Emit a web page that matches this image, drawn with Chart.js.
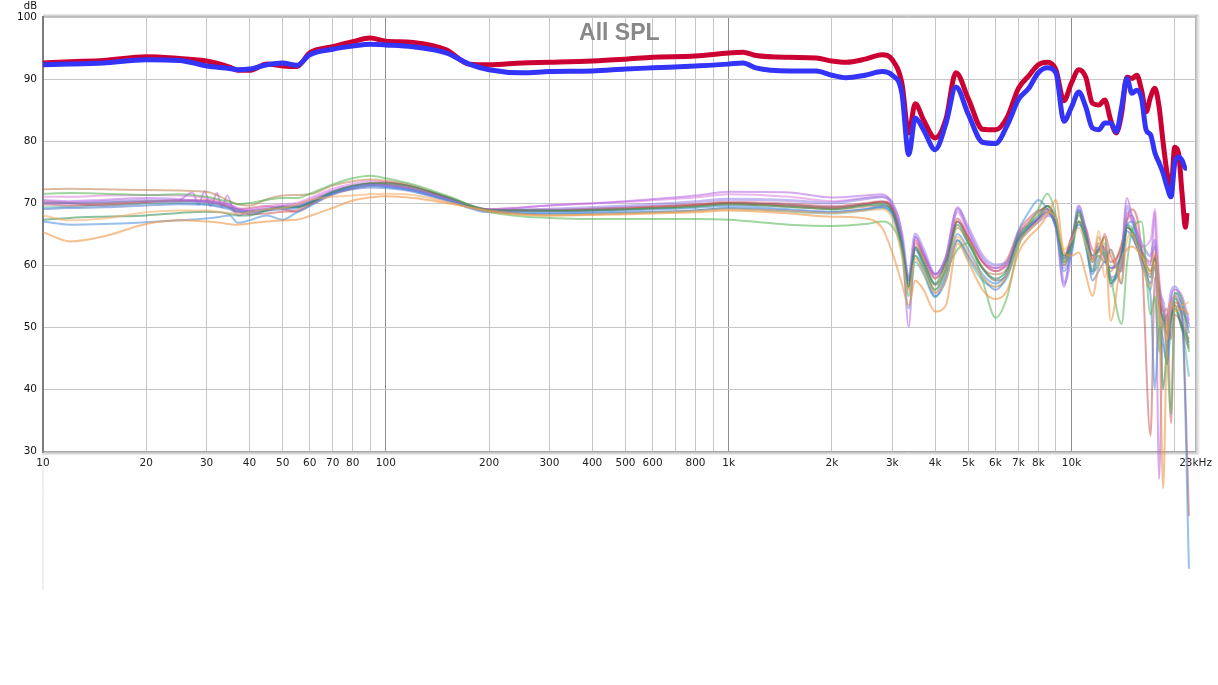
<!DOCTYPE html>
<html>
<head>
<meta charset="utf-8">
<title>All SPL</title>
<script src="https://cdn.jsdelivr.net/npm/chart.js@4.4.1/dist/chart.umd.min.js"></script>
<style>
html, body { margin: 0; padding: 0; background: #fff; }
</style>
</head>
<body>
<canvas id="spl-chart" width="1218" height="685"></canvas>
<script>
// x grid / tick labels (Hz)
var xTickFreq = [10,20,30,40,50,60,70,80,90,100,200,300,400,500,600,700,800,900,
                 1000,2000,3000,4000,5000,6000,7000,8000,9000,10000,20000,23000];
var xTickText = ['10','20','30','40','50','60','70','80','','100','200','300','400','500','600','','800','',
                 '1k','2k','3k','4k','5k','6k','7k','8k','','10k','','23kHz'];

// the two bold traces
var mainFreq = [10,12,15,20,25,30,35,37,40,45,50,55,60,70,80,90,100,120,150,175,
                200,250,300,400,500,600,800,1000,1100,1200,1500,1800,2000,2200,2500,2800,3000,3200,3350,3500,
                3700,4000,4300,4600,5000,5500,6000,6500,7000,7500,8000,8500,9000,9500,10000,10500,11000,11500,12000,12500,
                13000,13500,14000,14500,15000,15500,16000,16500,17000,17500,18000,18500,19000,19500,20000,20500,21000,21500,21700];
var redSpl = [92.6,92.8,93.0,93.6,93.3,92.9,91.9,91.4,91.4,92.4,92.1,92.0,94.2,95.2,96.0,96.6,96.1,95.9,94.7,92.4,
              92.3,92.6,92.7,92.9,93.2,93.5,93.7,94.2,94.3,93.8,93.5,93.4,92.9,92.7,93.2,93.9,93.1,89.3,81.3,86.0,
              83.4,80.5,83.5,91.0,86.8,81.9,81.8,83.9,88.5,90.5,92.3,92.7,91.5,86.5,89.4,91.5,90.3,86.1,85.8,86.6,
              83.4,81.3,84.5,90.3,90.1,90.6,88.2,84.7,87.1,88.5,85.5,79.7,74.8,72.4,79.0,78.1,71.6,66.1,68.4];
var blueSpl = [92.3,92.4,92.6,93.1,93.0,92.1,91.7,91.5,91.6,92.3,92.6,92.2,93.9,94.8,95.3,95.6,95.5,95.2,94.2,92.4,
               91.5,91.0,91.2,91.3,91.6,91.8,92.1,92.4,92.6,91.8,91.3,91.3,90.6,90.2,90.6,91.2,90.6,87.7,77.8,83.7,
               81.8,78.6,82.8,88.7,84.3,79.8,79.6,82.6,86.7,88.5,91.0,91.8,91.0,83.2,85.5,87.9,85.5,82.1,81.8,82.9,
               82.9,81.5,85.5,90.1,87.7,88.2,86.9,81.8,81.0,78.1,76.5,74.8,72.6,71.0,76.5,77.4,76.9,75.6,75.6];

// the thin individual measurements
var thinFreq = [10,12,15,20,25, 30,33,35,37,40, 45,50,55,60,70, 80,90,100,120,150,
                200,300,500,800,1000, 1500,2000,2500,2800,3000, 3200,3350,3500,3700,4000, 4300,4650,5000,5500,6000,
                6500,7000,7500,8000,8500, 9000,9500,10000,10500,11000, 11500,12000,12500,13000,14000,
                14500,15000,16000,17000,17500, 18000,18500,19000,19500,20000, 21000,22000];
var ora1 = [65.3,63.8,64.6,66.6,67.2, 67.0,66.8,66.6,66.5,66.7, 67.0,67.2,67.3,67.9,69.2, 70.4,70.9,71.1,70.8,70.0,
            68.8,68.0,68.2,68.5,68.8, 68.3,67.8,67.5,66.0,62.0, 57.0,53.5,57.5,56.0,52.5, 53.5,63.5,60.5,56.0,54.5,
            56.0,62.0,64.5,66.0,68.0, 70.5,62.0,61.5,62.0,58.5, 55.0,60.0,64.5,51.0,61.0,
            62.5,63.0,61.5,59.0,62.0, 54.0,24.0,50.0,54.0,52.5, 53.0,52.0];
var ora2 = [68.0,67.2,67.5,68.5,68.8, 68.8,68.5,68.4,68.3,68.5, 69.0,69.2,69.8,70.5,71.0, 71.2,71.4,71.5,71.3,70.2,
            68.6,68.0,68.3,68.7,69.0, 68.7,68.4,68.8,69.0,67.5, 61.5,55.5,61.0,59.0,55.5, 57.5,64.5,62.0,58.0,56.5,
            58.5,63.5,65.5,67.0,68.5, 67.5,62.5,64.0,66.0,63.5, 60.5,65.5,58.0,62.0,57.5,
            64.0,65.0,60.5,56.5,60.5, 52.5,50.5,48.0,53.0,55.0, 53.5,54.0];
var grn1 = [71.5,71.6,71.5,71.3,71.4, 71.0,70.5,70.2,69.8,70.0, 70.5,70.8,70.8,71.5,73.0, 74.0,74.4,74.0,73.0,71.2,
            68.6,67.6,67.4,67.4,67.3, 66.5,66.3,66.6,67.0,66.2, 62.5,55.0,61.5,59.5,56.0, 59.0,62.5,63.5,57.5,51.5,
            55.0,63.0,66.5,69.0,71.5, 68.0,60.5,63.0,68.5,64.0, 59.0,62.5,61.5,58.0,50.5,
            60.0,65.5,67.0,52.0,55.0, 46.0,52.0,45.0,36.0,55.5, 54.5,46.0];
var grn2 = [67.3,67.6,67.8,68.0,68.4, 68.6,68.5,68.2,68.0,68.0, 68.8,69.3,69.3,70.0,71.8, 72.8,73.2,73.2,72.6,71.0,
            68.9,68.8,69.0,69.4,69.8, 69.4,69.0,69.6,69.8,68.6, 63.0,56.5,62.8,60.5,57.0, 60.5,66.5,63.5,59.5,57.8,
            59.3,64.5,66.5,68.0,69.5, 67.0,61.5,63.0,68.5,65.0, 61.5,62.5,64.5,57.0,62.0,
            66.0,65.5,62.0,59.0,61.0, 55.0,40.0,47.0,51.5,53.0, 50.0,47.5];
var blu1 = [67.0,66.5,66.6,66.9,67.2, 67.5,67.8,68.0,66.8,67.2, 68.0,67.3,68.5,69.5,71.5, 72.5,72.8,72.6,72.0,70.5,
            68.5,68.5,68.8,69.2,69.5, 69.0,68.6,69.0,69.5,68.6, 63.5,57.0,62.5,60.0,55.5, 58.5,65.0,62.5,58.5,57.0,
            59.0,65.5,68.5,70.5,69.0, 66.0,59.0,62.0,69.0,63.0, 58.5,61.0,62.0,57.5,60.0,
            66.5,67.0,60.0,55.0,40.0, 50.0,48.0,44.0,51.0,54.5, 52.0,11.0];
var blu2 = [69.0,69.2,69.3,69.6,69.8, 69.7,69.3,69.0,68.5,68.5, 68.8,69.0,69.2,70.0,71.5, 72.2,72.5,72.4,71.8,70.4,
            68.6,68.3,68.5,68.8,69.2, 68.8,68.5,69.0,69.3,68.0, 62.5,57.5,61.5,59.0,55.0, 57.5,64.0,61.5,58.0,56.0,
            58.5,64.0,66.0,67.5,68.5, 66.5,61.0,64.0,66.5,64.5, 57.5,59.0,60.5,59.5,61.5,
            65.5,64.5,61.0,57.0,60.0, 53.5,51.0,48.5,52.0,55.5, 53.5,49.0];
var pur1 = [70.5,70.3,70.5,70.8,70.6, 70.3,70.0,69.8,69.0,68.8, 69.2,69.5,69.8,70.5,72.0, 72.8,73.0,72.8,72.2,70.8,
            69.0,69.6,70.3,71.2,71.8, 71.7,70.9,71.2,71.4,69.8, 64.5,50.0,64.5,62.0,58.5, 61.5,69.3,65.5,61.0,59.5,
            60.0,65.0,66.5,67.5,68.5, 66.0,56.5,63.5,68.8,66.0, 61.5,62.5,61.0,59.5,62.5,
            70.8,68.0,62.5,60.0,68.5, 25.5,52.0,46.0,54.5,56.0, 55.0,51.0];
var lav1 = [70.0,70.0,70.2,70.4,70.3, 70.2,69.8,69.4,68.8,68.4, 68.9,69.3,69.5,70.2,71.7, 72.6,73.0,72.8,72.1,70.6,
            68.8,69.0,69.5,70.2,70.6, 70.4,70.0,70.7,71.0,70.0, 65.0,58.0,65.0,62.5,58.5, 61.0,69.0,66.0,61.5,60.0,
            60.5,64.0,66.0,67.0,68.0, 67.5,57.0,62.0,69.5,65.0, 59.0,63.0,62.0,58.0,60.0,
            69.5,67.5,63.5,61.5,64.0, 56.0,54.0,50.5,55.5,56.5, 54.0,50.0];
var red1 = [69.8,69.6,69.8,70.2,70.4, 70.3,69.8,69.3,68.6,68.2, 68.3,68.6,68.8,69.8,71.6, 72.6,73.2,73.3,72.6,70.9,
            68.9,68.9,69.3,69.7,70.0, 69.6,69.2,69.8,70.2,69.2, 64.0,57.5,64.0,61.5,57.8, 60.5,67.5,64.5,60.5,59.0,
            60.5,65.0,67.0,68.5,69.5, 67.5,61.0,64.5,68.0,65.5, 61.0,63.5,62.5,60.5,63.0,
            67.5,69.0,62.0,32.5,58.0, 56.0,50.0,52.0,48.0,54.0, 51.5,19.5];
var tan1 = [72.2,72.3,72.2,72.1,72.0, 71.8,71.0,70.3,69.8,69.6, 70.6,71.2,71.3,71.4,72.8, 73.5,73.8,73.6,72.8,71.0,
            68.9,68.7,69.0,69.5,69.8, 69.4,69.0,69.4,69.6,68.8, 63.0,56.0,62.5,60.0,56.0, 59.5,66.0,63.5,59.5,58.5,
            59.5,64.5,66.0,67.5,69.0, 67.0,60.0,63.0,67.0,64.0, 60.5,64.5,61.0,59.0,63.5,
            66.0,65.5,61.0,58.5,61.5, 54.5,52.5,50.0,52.5,53.5, 52.5,50.5];
var teal1 = [69.3,69.4,69.6,69.9,70.0, 69.8,69.5,69.2,68.8,68.6, 69.0,69.3,69.4,70.1,71.6, 72.5,72.9,72.8,72.1,70.6,
             68.7,68.2,68.4,68.8,69.1, 68.6,68.3,68.8,69.2,68.3, 62.0,53.0,60.5,58.5,54.8, 58.0,64.0,61.0,57.5,56.5,
             58.0,63.5,66.0,67.5,69.5, 67.0,60.0,62.5,67.0,63.0, 59.0,60.0,63.5,57.0,61.0,
             66.5,66.0,60.5,56.0,60.0, 49.0,47.0,44.0,51.0,55.0, 50.0,42.0];
var gray1 = [70.0,70.0,70.1,70.3,70.4, 70.1,69.7,69.3,68.9,68.7, 69.0,69.4,69.5,70.2,71.8, 72.7,73.1,73.0,72.3,70.8,
             68.8,68.7,69.0,69.6,70.0, 69.7,69.3,69.8,70.1,69.0, 63.5,56.5,63.0,60.8,56.8, 59.5,67.0,64.0,59.5,57.5,
             58.5,63.5,65.5,67.0,68.5, 66.5,60.5,63.5,67.0,64.5, 60.5,61.5,60.5,62.5,57.0,
             66.5,65.0,61.0,58.0,61.5, 54.0,51.5,49.0,52.0,53.5, 49.5,46.5];
var pink1 = [71.0,71.0,71.2,71.3,71.2, 70.8,70.3,69.8,69.2,69.0, 69.5,69.8,70.0,70.8,72.3, 73.1,73.5,73.3,72.6,71.0,
             69.0,69.6,70.2,70.9,71.4, 71.0,70.3,70.8,71.0,69.5, 64.0,57.0,64.5,62.0,58.0, 61.0,68.5,65.0,60.5,59.0,
             60.0,64.0,66.0,67.5,69.0, 66.5,59.5,64.0,69.5,65.5, 61.0,62.5,63.0,56.5,62.0,
             68.5,67.0,63.0,64.0,69.0, 58.0,53.0,51.0,54.0,55.0, 52.0,47.0];
var rose1 = [70.3,70.0,69.6,70.0,70.3, 70.5,70.0,69.5,69.0,69.2, 69.5,69.0,68.6,69.6,71.3, 72.3,72.8,72.9,72.2,70.7,
             68.8,68.9,69.2,69.8,70.2, 69.9,69.5,70.0,70.3,69.3, 64.5,58.0,63.5,61.5,58.5, 61.0,67.0,64.5,60.5,59.5,
             61.0,65.5,67.5,68.8,69.0, 66.0,61.5,64.5,67.0,66.0, 62.5,62.0,65.0,61.5,59.0,
             67.0,68.0,62.5,60.5,63.0, 57.0,52.5,53.0,34.5,52.0, 50.5,48.0];

// the ripple on one of the purple traces around 30 Hz
var rippleFreq = [25,27.3,28.4,29.6,30.8,32.2,33.2,34.5,35.9,37.5,39];
var rippleSpl = [70.4,71.7,69.8,71.9,69.5,71.6,69.3,71.2,68.8,68.0,68.6];

// start of one trace that comes in from far below the axis
var stubFreq = [10, 10];
var stubSpl = [7.6, 30];

var thinTraces = [ora1, ora2, grn1, grn2, blu1, blu2, pur1, lav1, red1, tan1, teal1, gray1, pink1, rose1];
var thinColors = ['rgba(240,150,70,0.6)', 'rgba(245,170,95,0.55)', 'rgba(80,180,80,0.55)', 'rgba(40,140,80,0.55)',
                  'rgba(70,140,220,0.55)', 'rgba(60,110,210,0.5)', 'rgba(180,100,230,0.55)', 'rgba(150,130,230,0.55)',
                  'rgba(200,70,70,0.5)', 'rgba(190,130,80,0.55)', 'rgba(60,170,170,0.5)', 'rgba(90,90,90,0.5)',
                  'rgba(220,110,220,0.5)', 'rgba(210,80,110,0.5)'];

var labelFont = '"DejaVu Sans", "Liberation Sans", sans-serif';

function pts(freq, vals) {
    return freq.map(function (f, i) { return {x: f, y: vals[i]}; });
}

function line(freq, vals, color, width) {
    return {
        data: pts(freq, vals),
        borderColor: color,
        borderWidth: width,
        pointRadius: 0,
        cubicInterpolationMode: 'monotone',
        fill: false,
        clip: false
    };
}

var datasets = [
    line(mainFreq, blueSpl, '#3434f8', 5),
    line(mainFreq, redSpl, '#cc0033', 5)
];
thinTraces.forEach(function (t, i) {
    datasets.push(line(thinFreq, t, thinColors[i], i === 7 ? 3 : 2));
});
datasets.push(line(rippleFreq, rippleSpl, 'rgba(190,110,235,0.6)', 2));
datasets.push(line(stubFreq, stubSpl, 'rgba(200,200,200,0.6)', 1));

// border, shadow and heavy left axis of the plot box
var framePlugin = {
    id: 'frame',
    beforeDatasetsDraw: function (chart) {
        var a = chart.chartArea, c = chart.ctx;
        c.save();
        c.lineWidth = 1;
        ['#bcbcbc', '#d4d4d4', '#e6e6e6'].forEach(function (col, i) {
            c.strokeStyle = col;
            c.beginPath();
            c.moveTo(a.left, a.top - 0.5 - i);
            c.lineTo(a.right + 1 + i, a.top - 0.5 - i);
            c.stroke();
        });
        ['#a8a8a8', '#c2c2c2', '#d8d8d8', '#eaeaea'].forEach(function (col, i) {
            c.strokeStyle = col;
            c.beginPath();
            c.moveTo(a.right + 0.5 + i, a.top - 2);
            c.lineTo(a.right + 0.5 + i, a.bottom + 0.5 + i);
            c.lineTo(a.left, a.bottom + 0.5 + i);
            c.stroke();
        });
        c.strokeStyle = '#7c7c7c';
        c.lineWidth = 2;
        c.beginPath();
        c.moveTo(a.left, a.top - 1);
        c.lineTo(a.left, a.bottom + 2);
        c.stroke();
        c.restore();
    },
    afterDatasetsDraw: function (chart) {
        var a = chart.chartArea, c = chart.ctx;
        c.save();
        c.fillStyle = '#888888';
        c.font = 'bold 23px "Liberation Sans", Arial, sans-serif';
        c.textAlign = 'center';
        c.textBaseline = 'middle';
        c.fillText('All SPL', (a.left + a.right) / 2, a.top + 17);
        c.fillStyle = '#111';
        c.font = '10px ' + labelFont;
        c.textAlign = 'right';
        c.fillText('dB', a.left - 6, 6);
        c.restore();
    }
};

var ctx = document.getElementById('spl-chart').getContext('2d');
var splChart = new Chart(ctx, {
    type: 'line',
    data: {datasets: datasets},
    plugins: [framePlugin],
    options: {
        responsive: false,
        animation: false,
        events: [],
        layout: {padding: {left: 0, top: 17, right: 21, bottom: 210}},
        plugins: {legend: {display: false}, tooltip: {enabled: false}, title: {display: false}},
        scales: {
            x: {
                type: 'logarithmic',
                min: 10,
                max: 23000,
                afterBuildTicks: function (axis) {
                    axis.ticks = xTickFreq.map(function (v) { return {value: v}; });
                },
                afterFit: function (s) { s.height = 24; },
                grid: {
                    drawTicks: false,
                    lineWidth: 1,
                    color: function (c) {
                        var v = c.tick ? c.tick.value : 0;
                        return (v === 100 || v === 1000 || v === 10000) ? '#8e8e8e' : '#c6c6c6';
                    }
                },
                border: {display: false},
                ticks: {
                    autoSkip: false,
                    maxRotation: 0,
                    minRotation: 0,
                    padding: 6,
                    color: '#222',
                    font: {family: labelFont, size: 10.5},
                    callback: function (v, i) { return xTickText[i]; }
                }
            },
            y: {
                min: 30,
                max: 100,
                afterFit: function (s) { s.width = 43; },
                grid: {drawTicks: false, color: '#c6c6c6', lineWidth: 1},
                border: {display: false},
                ticks: {
                    stepSize: 10,
                    padding: 6,
                    color: '#111',
                    font: {family: labelFont, size: 10.5}
                }
            }
        }
    }
});
</script>
</body>
</html>
